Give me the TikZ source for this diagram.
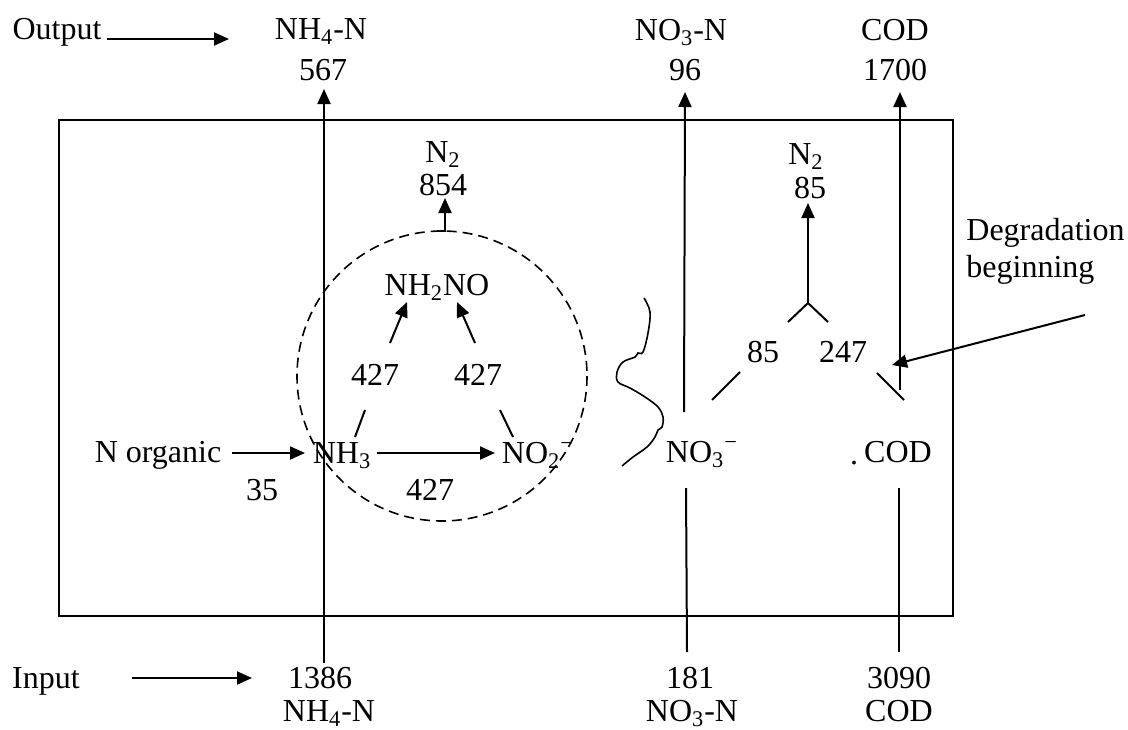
\documentclass[tikz,border=0pt]{standalone}
\usepackage{fontspec}
\setmainfont{Liberation Serif}
\usetikzlibrary{arrows.meta}
\begin{document}
\begin{tikzpicture}[x=0.5pt,y=-0.5pt,
  font=\fontsize{16}{18.5}\selectfont,
  lbl/.style={inner sep=0pt, align=center, anchor=base},
  ln/.style={line width=1pt},
  arr/.style={line width=1pt,-{Triangle[length=7.5pt,width=6.5pt]}},
  boxline/.style={line width=0.75pt},
  circ/.style={line width=0.8pt, dash pattern=on 5pt off 3pt}]
\useasboundingbox (0,0) rectangle (1128,729);
% reactor box
\draw[boxline] (59,120) coordinate (boxnw) rectangle (953,616) coordinate (boxse);
% top labels
\node[lbl] (outlbl) at (57,39) {Output};
\node[lbl] (nh4out) at (321,39) {NH\textsubscript{4}-N};
\node[lbl] (v567) at (323,80) {567};
\node[lbl] (no3out) at (681,40) {NO\textsubscript{3}-N};
\node[lbl] (v96) at (685,80) {96};
\node[lbl] (codout) at (895,40) {COD};
\node[lbl] (v1700) at (895,80) {1700};
\node[lbl] (n2a) at (443,162) {N\textsubscript{2}};
\node[lbl] (v854) at (443,195) {854};
\node[lbl] (n2b) at (806,164) {N\textsubscript{2}};
\node[lbl] (v85top) at (810,198) {85};
% inner labels
\node[lbl] (nh2no) at (437,295) {NH\textsubscript{2}NO};
\node[lbl] (l427a) at (375,385) {427};
\node[lbl] (l427b) at (478,385) {427};
\node[lbl] (norg) at (158,462) {N organic};
\node[lbl] (nh3) at (342,463) {NH\textsubscript{3}};
\node[lbl] (no2) at (538,463) {NO\textsubscript{2}\textsuperscript{−}};
\node[lbl] (no3) at (702,462) {NO\textsubscript{3}\textsuperscript{−}};
\node[lbl] (cod) at (898,462) {COD};
\node[lbl] (dot) at (854,464) {.};
\node[lbl] (v35) at (262,500) {35};
\node[lbl] (l427c) at (430,500) {427};
\node[lbl] (v85) at (763,362) {85};
\node[lbl] (v247) at (843,362) {247};
\node[lbl, anchor=base west, align=left] (degr) at (966,277) {Degradation\\beginning};
% bottom labels
\node[lbl] (inlbl) at (46,688) {Input};
\node[lbl] (v1386) at (320,688) {1386};
\node[lbl] (nh4in) at (329,721) {NH\textsubscript{4}-N};
\node[lbl] (v181) at (690,688) {181};
\node[lbl] (no3in) at (692,721) {NO\textsubscript{3}-N};
\node[lbl] (v3090) at (899,688) {3090};
\node[lbl] (codin) at (899,721) {COD};
% coordinates for free ends
\coordinate (oa1) at (107,39); \coordinate (oa2) at (229,39);
\coordinate (ia1) at (132,678); \coordinate (ia2) at (252,678);
\coordinate (nh4b) at (324,663); \coordinate (nh4t) at (324,89);
\coordinate (no3lo) at (687,652); \coordinate (no3lb) at (686,488);
\coordinate (no3ua) at (684,412); \coordinate (no3ut) at (685,92);
\coordinate (codlo) at (899,652); \coordinate (codlb) at (899,488);
\coordinate (codua) at (900,390); \coordinate (codut) at (900,92);
\coordinate (yl) at (788,322); \coordinate (yc) at (808,303); \coordinate (yr) at (828,322);
\coordinate (n2bt) at (808,203);
\coordinate (n2ab) at (437,231); \coordinate (n2ak) at (445,231); \coordinate (n2at) at (445,198);
\coordinate (cc) at (442,376);
\coordinate (dg1) at (1085,315); \coordinate (dg2) at (892,365);
\coordinate (tk1) at (877,373); \coordinate (tk2) at (904,400);
\coordinate (s1) at (712,400); \coordinate (s2) at (740,372);
\coordinate (a1s) at (390,343); \coordinate (a1e) at (407,302);
\coordinate (a2s) at (475,343); \coordinate (a2e) at (457,302);
\coordinate (b1s) at (355,437); \coordinate (b1e) at (365,410);
\coordinate (b2s) at (513,437); \coordinate (b2e) at (500,410);
\coordinate (h1s) at (377,453); \coordinate (h1e) at (495,453);
\coordinate (g1s) at (232,453); \coordinate (g1e) at (305,453);
% connectors
\draw[arr] (oa1) -- (oa2);
\draw[arr] (ia1) -- (ia2);
\draw[arr] (nh4b) -- (nh4t);
\draw[ln] (no3lo) -- (no3lb);
\draw[arr] (no3ua) -- (no3ut);
\draw[ln] (codlo) -- (codlb);
\draw[arr] (codua) -- (codut);
\draw[ln] (yl) -- (yc) -- (yr);
\draw[arr] (yc) -- (n2bt);
\draw[arr] (n2ab) -- (n2ak) -- (n2at);
\draw[circ] (cc) circle [radius=145];
\draw[arr] (dg1) -- (dg2);
\draw[ln] (tk1) -- (tk2);
\draw[ln] (s1) -- (s2);
\draw[arr] (a1s) -- (a1e);
\draw[arr] (a2s) -- (a2e);
\draw[ln] (b1s) -- (b1e);
\draw[ln] (b2s) -- (b2e);
\draw[arr] (h1s) -- (h1e);
\draw[arr] (g1s) -- (g1e);
% squiggle
\draw[line width=0.8pt] plot[smooth, tension=0.6] coordinates {
 (644,298) (650,312) (648,333) (643,352) (638,353) (635,357) (623,362)
 (617,372) (618,382) (630,388) (645,397) (658,407) (663,417) (662,427)
 (658,430) (655,437) (647,447) (633,457) (622,466)};
\end{tikzpicture}
\end{document}
